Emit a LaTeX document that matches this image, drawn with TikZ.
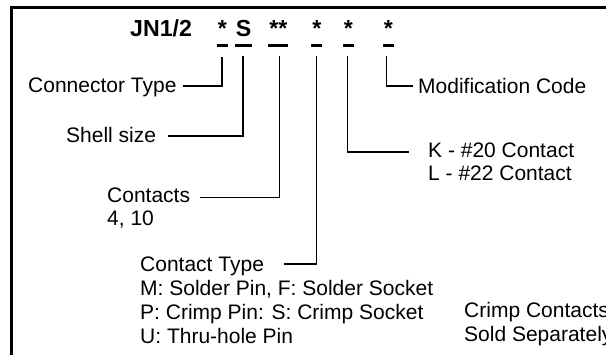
\documentclass[tikz,border=0pt]{standalone}
\usepackage{fontspec}
\setmainfont{Liberation Sans}
\begin{document}
\begin{tikzpicture}[x=1pt,y=-1pt,
  lbl/.style={anchor=base west,inner sep=0pt,font=\fontsize{21}{24}\selectfont},
  ttl/.style={anchor=base,inner sep=0pt,font=\fontsize{23.2}{26}\selectfont\bfseries},
  uline/.style={line width=2.6pt},
  conn/.style={line width=1.9pt}]
\useasboundingbox (0,0) rectangle (606,355);
\clip (0,0) rectangle (606,355);
\fill[white] (0,0) rectangle (606,355);
\draw[line width=2.7pt] (11.7,7.5) rectangle (660,420);
% title
\node[ttl,anchor=base west] (jn) at (130,37) {JN1/2};
\node[ttl] (s1) at (222.5,37) {*};
\node[ttl] (s2) at (243.5,37) {S};
\node[ttl] (s3) at (278.5,37) {**};
\node[ttl] (s4) at (317,37) {*};
\node[ttl] (s5) at (348.5,37) {*};
\node[ttl] (s6) at (388.5,37) {*};
\draw[uline] (217,45.5) -- (228,45.5);
\draw[uline] (235,45.5) -- (252,45.5);
\draw[uline] (268,45.5) -- (288,45.5);
\draw[uline] (311,45.5) -- (322,45.5);
\draw[uline] (343,45.5) -- (354,45.5);
\draw[uline] (383,45.5) -- (394,45.5);
% labels
\node[lbl] (ct) at (28,92.5) {Connector Type};
\node[lbl] (ss) at (66,142.5) {Shell size};
\node[lbl] (co) at (107,203) {Contacts};
\node[lbl] (cn) at (107,225.5) {4, 10};
\node[lbl] (cty) at (140,271.5) {Contact Type};
\node[lbl] (m1) at (140,296) {M: Solder Pin, F: Solder Socket};
\node[lbl] (m2) at (140,320) {P: Crimp Pin: S: Crimp Socket};
\node[lbl] (m3) at (140,344) {U: Thru-hole Pin};
\node[lbl] (k) at (428,157.5) {K - \#20 Contact};
\node[lbl] (l) at (428,180.5) {L - \#22 Contact};
\node[lbl] (mc) at (418,93.5) {Modification Code};
\node[lbl] (cc) at (464,318) {Crimp Contacts};
\node[lbl] (sp) at (464,342) {Sold Separately};
% connector coordinates
\coordinate (u1) at (222,57);   \coordinate (e1) at (183,86);
\coordinate (u2) at (243,56);   \coordinate (e2) at (168,136);
\coordinate (u3) at (279.5,56); \coordinate (e3) at (200,197.5);
\coordinate (u4) at (316.5,56); \coordinate (e4) at (284,264);
\coordinate (u5) at (347.5,56); \coordinate (e5) at (409,152);
\coordinate (u6) at (386.5,56); \coordinate (e6) at (413,86);
\draw[conn] (u1) |- (e1);
\draw[conn] (u2) |- (e2);
\draw[conn] (u3) |- (e3);
\draw[conn] (u4) |- (e4);
\draw[conn] (u5) |- (e5);
\draw[conn] (u6) |- (e6);
\end{tikzpicture}
\end{document}
